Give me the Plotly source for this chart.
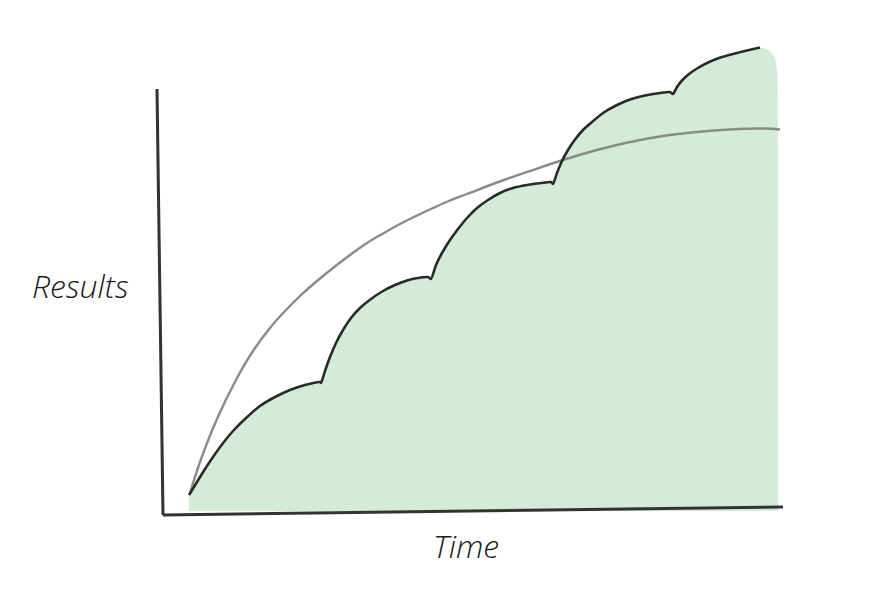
import plotly.graph_objects as go

# Scalloped "results" curve (time, results) in arbitrary units (no ticks on the sketch)
step_time = [29, 37, 45, 53, 62, 73, 85, 100, 115, 130, 145, 160,
             161, 165, 170, 176, 183, 191, 200, 211, 223, 235, 247, 258, 268,
             271, 276, 282, 290, 298, 307, 317, 328, 340, 353, 367, 381, 391,
             393, 397, 402, 408, 415, 423, 432, 443, 456, 470, 485, 500, 510,
             513, 517, 522, 529, 537, 547, 559, 573, 587, 600]
step_results = [16, 29, 42, 54, 66.5, 80, 92, 105, 114, 121, 126, 129,
                128, 140, 154, 168, 181, 193, 203, 212, 220, 226, 230.5, 233, 234,
                232, 246, 258, 271, 282, 293, 303, 311, 318, 323, 326, 328, 329,
                327, 338, 350, 361, 371.5, 381, 389, 398, 405.5, 411.5, 415.5, 418, 419,
                417, 424, 430.5, 437, 442.5, 448, 453, 457, 460.5, 463.5]

# extra fill edge past the end of the outline
fill_end_time = [608, 614, 617, 618, 618]
fill_end_results = [461, 455, 441, 311, 6]

# Smooth gray curve
smooth_time = [30, 40, 57, 77, 93, 110, 125, 140, 157, 173, 190, 207, 223, 240,
               257, 273, 290, 307, 337, 370, 403, 437, 470, 503, 537, 570, 603, 620]
smooth_results = [18, 49, 92, 133, 160, 183, 200, 215, 230, 243, 256, 268, 277.5, 287,
                  295.5, 303, 310.5, 317, 328.5, 340, 351, 361, 369, 375, 379, 381.5,
                  382.5, 381.5]

# hand-drawn axes (time, results) endpoints
axis_y_time = [-3, 3]
axis_y_results = [422, -4]
axis_x_time = [3, 623]
axis_x_results = [-4, 4]

fig = go.Figure()

fig.add_trace(go.Scatter(
    x=step_time + fill_end_time, y=step_results + fill_end_results,
    mode="lines", line=dict(width=0, shape="spline", smoothing=0.6),
    fill="tozeroy", fillcolor="#d4ebd7", hoverinfo="skip", showlegend=False))

fig.add_trace(go.Scatter(
    x=smooth_time, y=smooth_results, mode="lines",
    line=dict(color="#8a8a8a", width=2.4, shape="spline", smoothing=1.0),
    showlegend=False))

fig.add_trace(go.Scatter(
    x=step_time, y=step_results, mode="lines",
    line=dict(color="#2a2a2a", width=2.6, shape="spline", smoothing=0.6),
    showlegend=False))

fig.add_trace(go.Scatter(
    x=axis_y_time, y=axis_y_results, mode="lines",
    line=dict(color="#333333", width=3), showlegend=False))
fig.add_trace(go.Scatter(
    x=axis_x_time, y=axis_x_results, mode="lines",
    line=dict(color="#333333", width=3), showlegend=False))

fig.update_layout(
    width=886, height=604,
    margin=dict(l=0, r=0, t=0, b=0),
    paper_bgcolor="white", plot_bgcolor="white",
    xaxis=dict(range=[-152, 734], visible=False, fixedrange=True),
    yaxis=dict(range=[-101, 503], visible=False, fixedrange=True),
    annotations=[
        dict(text="<i>Results</i>", xref="paper", yref="paper",
             x=72 / 886, y=1 - 277 / 604, showarrow=False,
             font=dict(family="Open Sans", size=32, color="#1a1a1a", weight=300),
             xanchor="center", yanchor="middle"),
        dict(text="<i>Time</i>", xref="paper", yref="paper",
             x=458 / 886, y=1 - 537 / 604, showarrow=False,
             font=dict(family="Open Sans", size=32, color="#1a1a1a", weight=300),
             xanchor="center", yanchor="middle"),
    ],
)

fig.write_html("out.html")
